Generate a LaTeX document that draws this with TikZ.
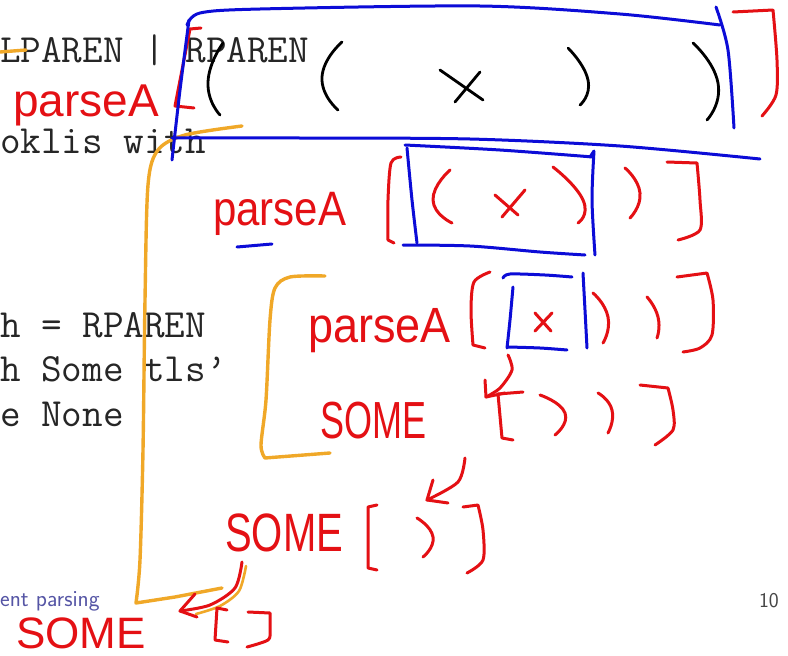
\documentclass[tikz,border=0pt]{standalone}
\usepackage{fontspec}
\newfontfamily\handfont{Liberation Sans}
\definecolor{inkred}{RGB}{228,16,20}
\definecolor{inkblue}{RGB}{12,12,215}
\definecolor{inkorange}{RGB}{240,168,40}
\definecolor{footblue}{RGB}{85,85,165}
\definecolor{footgray}{RGB}{70,70,70}
\tikzset{
  pen/.style={line width=3pt, line cap=round, line join=round},
  redpen/.style={pen, draw=inkred},
  bluepen/.style={pen, draw=inkblue},
  orangepen/.style={pen, draw=inkorange, line width=3.4pt},
  blackpen/.style={pen, draw=black, line width=2.8pt},
  paren/.style={smooth, tension=1},
  code/.style={anchor=base west, inner sep=0pt, font=\ttfamily\fontsize{40}{44}\selectfont, text=black!85},
  hand/.style={anchor=base west, inner sep=0pt, text=inkred},
}
\begin{document}
\begin{tikzpicture}[x=1pt, y=-1pt]
\useasboundingbox (0,0) rectangle (788,656);
\fill[white] (0,0) rectangle (788,656);

% slide text underneath the ink
\node[code] (c1) at (0,62) {LPAREN | RPAREN};
\node[code] (c2) at (0,153) {oklis with};
\node[code] (c3) at (0,337) {h = RPAREN};
\node[code] (c4) at (0,381) {h Some tls’};
\node[code] (c5) at (0,426) {e None};
\node[anchor=base west, inner sep=0pt, text=footblue, font=\sffamily\fontsize{23}{25}\selectfont] (foot) at (0,606) {ent parsing};
\node[anchor=base east, inner sep=0pt, text=footgray, font=\sffamily\fontsize{21}{24}\selectfont] (page) at (779,607) {10};

% orange brackets
\draw[orangepen] (0,52) -- (26,50);
\draw[orangepen] plot[smooth] coordinates {(242,126) (185,135) (158,150) (148,185) (145,300) (143,450) (140,560) (136,603)}
  -- (175,597) -- (222,588);
\draw[orangepen] plot[smooth] coordinates {(325,276) (290,277) (275,288) (270,320) (266,400) (261,445) (265,458)} -- (330,453);
\draw[orangepen, line width=2.6pt] plot[smooth] coordinates {(246,566) (239,591) (220,606) (196,614)};

% first level: parseA [ ( ( x ) ) ]
\node[hand, font=\handfont\fontsize{46}{50}\selectfont] (pa1) at (13,116) {parseA};
\draw[redpen] (201,28) -- (190,29) -- (175,106) -- (194,108);
\draw[bluepen] plot[smooth] coordinates {(187,25) (200,13) (260,9) (480,6) (620,14) (720,25)};
\draw[bluepen] plot[smooth] coordinates {(189,20) (180,90) (172,160)};
\draw[bluepen] plot[smooth] coordinates {(716,7) (728,50) (734,128)};
\draw[bluepen] plot[smooth] coordinates {(172,138) (300,138) (470,139) (620,146) (760,159)};
\draw[blackpen] plot[paren] coordinates {(223,43) (208,82) (220,115)};
\draw[blackpen] plot[paren] coordinates {(342,42) (322,77) (338,110)};
\draw[blackpen] (440,70) -- (483,100) (480,72) -- (455,102);
\draw[blackpen] plot[paren] coordinates {(568,48) (588,80) (580,105)};
\draw[blackpen] plot[paren] coordinates {(693,43) (718,83) (707,120)};
\draw[redpen] (733,12) -- (773,10) plot[smooth] coordinates {(773,10) (777,60) (776,95) (762,116)};

% second level: parseA [ ( x ) ) ]
\node[hand, font=\handfont\fontsize{42}{46}\selectfont] (pa2) at (213,225) {\scalebox{1}[1.15]{parseA}};
\draw[bluepen] (237,247) -- (272,244);
\draw[redpen] plot[smooth] coordinates {(401,157) (391,163) (388,200) (388,240)} -- (394,243);
\draw[bluepen] plot[smooth] coordinates {(405,145) (500,150) (593,157)};
\draw[bluepen] plot[smooth] coordinates {(407,148) (412,200) (417,243)};
\draw[bluepen] plot[smooth] coordinates {(403,245) (470,246) (540,252) (585,255)};
\draw[bluepen] (590,157) -- (594,151) plot[smooth] coordinates {(594,151) (592,200) (595,255)};
\draw[redpen] plot[paren] coordinates {(450,170) (433,200) (452,223)};
\draw[redpen] (495,195) -- (518,215) (525,190) -- (502,217);
\draw[redpen] plot[paren] coordinates {(553,167) (583,200) (578,223)};
\draw[redpen] plot[paren] coordinates {(625,168) (640,193) (630,218)};
\draw[redpen] (667,162) -- (697,163) plot[smooth] coordinates {(697,163) (700,200) (700,230) (678,240)};

% third level: parseA [ x ) ) ]  then SOME [ ) ) ]
\node[hand, font=\handfont\fontsize{45}{48}\selectfont] (pa3) at (308,342) {\scalebox{1}[1.1]{parseA}};
\draw[redpen] plot[smooth] coordinates {(490,272) (474,282) (471,310) (473,345)} -- (485,348);
\draw[bluepen] plot[smooth] coordinates {(503,278) (510,274) (545,275) (572,277)};
\draw[bluepen] plot[smooth] coordinates {(513,287) (510,320) (507,348)};
\draw[bluepen] plot[smooth] coordinates {(508,347) (540,348) (567,350)};
\draw[bluepen] plot[smooth] coordinates {(583,273) (585,310) (587,348)};
\draw[redpen] (535,313) -- (551,331) (552,313) -- (535,331);
\draw[redpen] plot[paren] coordinates {(593,293) (608,317) (603,343)};
\draw[redpen] plot[paren] coordinates {(647,297) (658,317) (657,338)};
\draw[redpen] (677,277) -- (707,273) plot[smooth] coordinates {(707,273) (713,300) (712,335) (700,348) (683,352)};

\coordinate (s3from) at (508,355);
\coordinate (s3to) at (486,397);
\draw[redpen] plot[smooth] coordinates {(s3from) (512,370) (500,388) (s3to)};
\draw[redpen] (485,380) -- (s3to) -- (505,393);

\node[hand, font=\handfont\fontsize{36}{40}\selectfont] (some3) at (320,438) {\scalebox{1}[1.45]{SOME}};
\draw[redpen] (523,392) -- (498,394) -- (502,438) -- (513,440);
\draw[redpen] plot[paren] coordinates {(540,395) (565,413) (555,435)};
\draw[redpen] plot[paren] coordinates {(598,393) (612,410) (608,433)};
\draw[redpen] (640,385) -- (668,388) plot[smooth] coordinates {(668,388) (673,410) (673,430) (655,445)};

% fourth level: SOME [ ) ]
\coordinate (s4from) at (465,458);
\coordinate (s4to) at (427,500);
\draw[redpen] plot[smooth] coordinates {(s4from) (458,482) (s4to)};
\draw[redpen] (433,480) -- (s4to) -- (448,503);

\node[hand, font=\handfont\fontsize{40}{44}\selectfont] (some4) at (225,551) {\scalebox{1}[1.35]{SOME}};
\draw[redpen] (377,505) -- (368,507) -- (368,568) -- (377,570);
\draw[redpen] plot[paren] coordinates {(417,518) (433,537) (423,557)};
\draw[redpen] (463,507) -- (478,505) plot[smooth] coordinates {(478,505) (483,530) (483,560) (467,573)};

% last level: SOME [ ]
\coordinate (s5from) at (242,562);
\coordinate (s5to) at (180,611);
\draw[redpen] plot[smooth] coordinates {(s5from) (235,588) (210,605) (s5to)};
\draw[redpen] (195,594) -- (s5to) -- (197,617);

\node[hand, font=\handfont\fontsize{44}{48}\selectfont] (some5) at (16,648) {SOME};
\draw[redpen] (227,610) -- (217,608) -- (215,640) -- (228,642);
\draw[redpen] (248,612) -- (270,613) plot[smooth] coordinates {(270,613) (270,630) (268,640) (247,647)};
\end{tikzpicture}
\end{document}
